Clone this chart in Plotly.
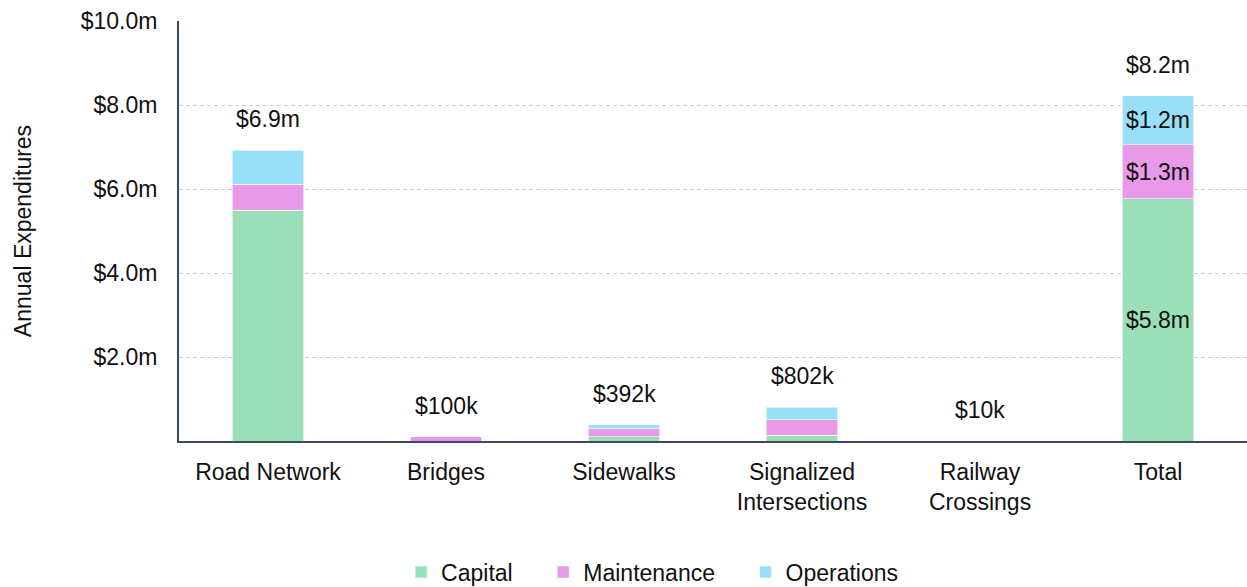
import plotly.graph_objects as go

categories = ["Road Network", "Bridges", "Sidewalks", "Signalized<br>Intersections", "Railway<br>Crossings", "Total"]
capital = [5.50, 0.0, 0.10, 0.14, 0.0, 5.77]
maintenance = [0.61, 0.10, 0.19, 0.37, 0.01, 1.28]
operations = [0.81, 0.0, 0.102, 0.292, 0.0, 1.17]
total_labels = ["$6.9m", "$100k", "$392k", "$802k", "$10k", "$8.2m"]
seg_labels_capital = ["", "", "", "", "", "$5.8m"]
seg_labels_maint = ["", "", "", "", "", "$1.3m"]
seg_labels_ops = ["", "", "", "", "", "$1.2m"]
y_ticks = [2, 4, 6, 8, 10]
y_tick_text = ["$2.0m", "$4.0m", "$6.0m", "$8.0m", "$10.0m"]
series_names = ["Capital", "Maintenance", "Operations"]

FONT = "Liberation Sans, Arial, sans-serif"
FS = 23
PAD = "\u00a0" * 4
fig = go.Figure()
series = [
    (series_names[0] + PAD, capital, "#9BDFB9", seg_labels_capital),
    (series_names[1] + PAD, maintenance, "#E899E8", seg_labels_maint),
    (series_names[2], operations, "#99DFF8", seg_labels_ops),
]
for name, vals, col, txt in series:
    fig.add_trace(go.Bar(
        name=name, x=categories, y=vals,
        marker=dict(color=col, line=dict(color="rgba(255,255,255,0.6)", width=1)),
        width=0.4, text=txt, textposition="inside", insidetextanchor="middle",
        textfont=dict(size=FS, color="#111111", family=FONT), cliponaxis=False,
    ))

totals = [c + m + o for c, m, o in zip(capital, maintenance, operations)]
for cat, t, lab in zip(categories, totals, total_labels):
    fig.add_annotation(x=cat, y=t, text=lab, showarrow=False, yshift=31,
                       font=dict(size=FS, color="#111111", family=FONT))

fig.update_layout(
    barmode="stack",
    width=1247, height=587,
    margin=dict(l=179, r=0, t=21, b=146, autoexpand=False),
    plot_bgcolor="white", paper_bgcolor="white",
    font=dict(family=FONT, size=FS, color="#111111"),
    uniformtext=dict(mode=False),
    legend=dict(orientation="h", x=0.443, xanchor="center", y=-0.312, yanchor="middle",
                font=dict(size=FS), itemwidth=30, traceorder="normal"),
    showlegend=True,
)
fig.update_xaxes(showline=True, linecolor="#3b4a63", linewidth=2, ticks="", showgrid=False,
                 tickfont=dict(size=FS), ticklabelstandoff=9)
fig.update_yaxes(range=[0, 10], tickvals=y_ticks, ticktext=y_tick_text, showgrid=True,
                 gridcolor="#cfcfcf", griddash="4px,3px", gridwidth=1, showline=True,
                 linecolor="#3b4a63", linewidth=2, ticks="", zeroline=False,
                 ticklabelstandoff=15, tickfont=dict(size=FS),
                 title=dict(text="Annual Expenditures", font=dict(size=FS), standoff=43))

fig.write_html("out.html")
